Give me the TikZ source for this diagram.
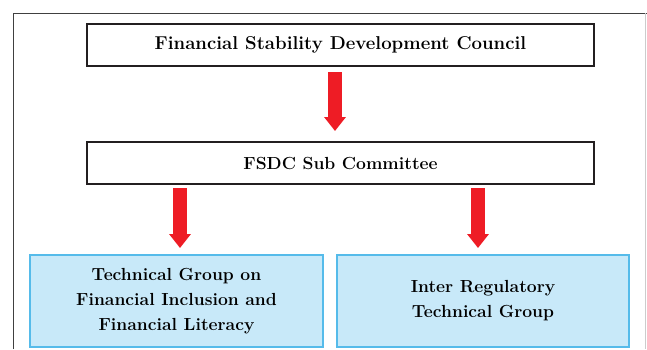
\documentclass[tikz,border=0pt]{standalone}
\usetikzlibrary{arrows.meta}
\definecolor{boxline}{HTML}{231F20}
\definecolor{blueline}{HTML}{55BBEA}
\definecolor{bluefill}{HTML}{C8E9F9}
\definecolor{arrowred}{HTML}{EE1C25}
\tikzset{
  blackbox/.style={draw=boxline, line width=2.5pt, minimum width=507pt, minimum height=42pt, inner sep=0pt, outer sep=0pt, font=\fontsize{17.5}{24}\selectfont\bfseries},
  bluebox/.style={draw=blueline, fill=bluefill, line width=2pt, minimum height=92pt, inner sep=0pt, outer sep=0pt, align=center, font=\fontsize{17.5}{25}\selectfont\bfseries},
  redarrow/.style={draw=arrowred, line width=14pt, -{Triangle[width=21pt,length=14pt]}}
}
\begin{document}
\begin{tikzpicture}[x=1pt,y=-1pt]
\useasboundingbox (0,0) rectangle (647,349);
\fill[white] (0,0) rectangle (647,349);
% outer frame
\draw[black!75, line width=1pt] (13,349) -- (13,13) -- (647,13);
\draw[black!20, line width=0.8pt] (645,13) -- (645,349);
% nodes
\node[blackbox, font=\fontsize{18.6}{24}\selectfont\bfseries] (fsdc) at (340.5,45) {Financial Stability Development Council};
\node[blackbox] (sub) at (340.5,163) {FSDC Sub Committee};
\node[bluebox, minimum width=293pt] (tg) at (176.5,301) {Technical Group on\\Financial Inclusion and\\Financial Literacy};
\node[bluebox, minimum width=292pt] (irtg) at (483,301) {Inter Regulatory\\Technical Group};
% arrows
\draw[redarrow] ([xshift=-5.5pt,yshift=-6pt]fsdc.south) -- ([xshift=-5.5pt,yshift=11pt]sub.north);
\draw[redarrow] ([xshift=3.5pt,yshift=-4pt]sub.south -| tg.north) -- ([xshift=3.5pt,yshift=7pt]tg.north);
\draw[redarrow] ([xshift=-5pt,yshift=-4pt]sub.south -| irtg.north) -- ([xshift=-5pt,yshift=7pt]irtg.north);
\end{tikzpicture}
\end{document}
